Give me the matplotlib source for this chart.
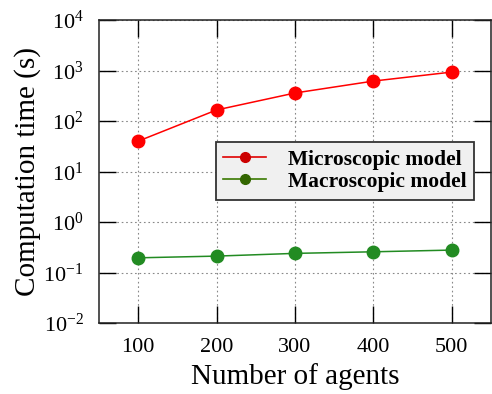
import matplotlib
matplotlib.use("Agg")
import matplotlib.pyplot as plt
from matplotlib.lines import Line2D
from matplotlib.ticker import LogLocator, NullLocator, LogFormatterMathtext

plt.rcParams['font.family'] = ['Liberation Serif', 'DejaVu Serif']
plt.rcParams['mathtext.fontset'] = 'custom'
plt.rcParams['mathtext.rm'] = 'Liberation Serif'
plt.rcParams['mathtext.it'] = 'Liberation Serif:italic'

# Data
agents = [100, 200, 300, 400, 500]
micro_time = [40, 166, 360, 620, 935]
macro_time = [0.196, 0.212, 0.240, 0.258, 0.279]
x_ticks = [100, 200, 300, 400, 500]

fig = plt.figure(figsize=(4.92, 3.94), dpi=100)
ax = fig.add_axes([0.201, 0.180, 0.797, 0.769])

ax.plot(agents, micro_time, color='#ff0000', lw=1.1, marker='o', ms=9, zorder=3)
ax.plot(agents, macro_time, color='#228b22', lw=1.1, marker='o', ms=9, zorder=3)

ax.set_yscale('log')
ax.set_ylim(1e-2, 1e4)
ax.set_xlim(50, 550)
ax.set_xticks(x_ticks)
ax.yaxis.set_major_locator(LogLocator(base=10, numticks=10))
ax.yaxis.set_major_formatter(LogFormatterMathtext())
ax.yaxis.set_minor_locator(NullLocator())

ax.tick_params(axis='both', which='major', direction='in', length=12.5, width=1,
               top=True, right=True, labelsize=16, pad=11)
for s in ax.spines.values():
    s.set_linewidth(1.1)
    s.set_color('#222222')

ax.grid(True, linestyle=(0, (1.5, 2.5)), color='#888888', linewidth=0.8)
ax.set_axisbelow(True)

ax.set_xlabel('Number of agents', fontsize=21, labelpad=4)
ax.set_ylabel('Computation time (s)', fontsize=21, labelpad=2)

handles = [
    Line2D([], [], color='#e00000', lw=1.2, marker='o', ms=7, mfc='#cc0000', mec='#cc0000'),
    Line2D([], [], color='#3a7a00', lw=1.2, marker='o', ms=7, mfc='#336600', mec='#336600'),
]
leg = ax.legend(handles, ['Microscopic model', 'Macroscopic model'],
                loc='upper right', bbox_to_anchor=(0.957, 0.597), borderaxespad=0,
                fancybox=False, framealpha=1, edgecolor='#333333', facecolor='#f0f0f0',
                prop={'weight': 'bold', 'size': 15.5}, handlelength=2.0, handletextpad=1.0,
                labelspacing=0.1, borderpad=0.35)
leg.get_frame().set_linewidth(1.3)

fig.savefig('out.png', dpi=100)
